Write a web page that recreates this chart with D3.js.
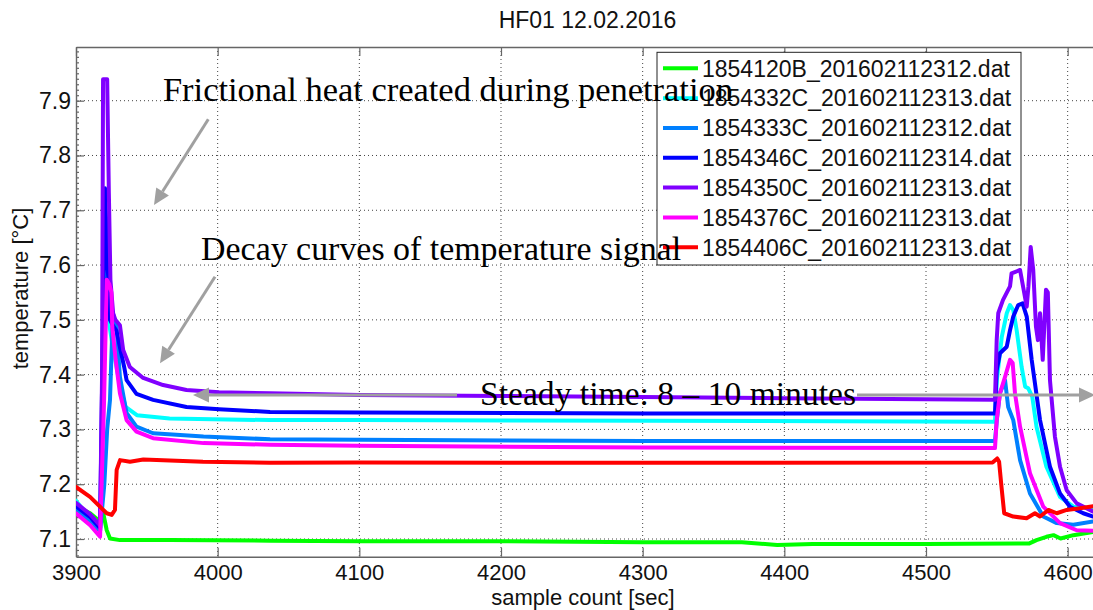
<!DOCTYPE html>
<html><head><meta charset="utf-8">
<script src="https://cdn.jsdelivr.net/npm/d3@7"></script>
<style>html,body{margin:0;padding:0;background:#fff;overflow:hidden}</style>
</head><body>
<svg id="chart" width="1093" height="610"></svg>
<script>
// ---------- data ----------
const seriesNames = ["1854120B_201602112312.dat","1854332C_201602112313.dat","1854333C_201602112312.dat","1854346C_201602112314.dat","1854350C_201602112313.dat","1854376C_201602112313.dat","1854406C_201602112313.dat"];
const seriesColors = ["#00ff00","#00ffff","#0080ff","#0000ff","#8000ff","#ff00ff","#ff0000"];
const xTicks = [3900,4000,4100,4200,4300,4400,4500,4600];
const yTicks = [7.1,7.2,7.3,7.4,7.5,7.6,7.7,7.8,7.9];
const xDomain = [3900,4620];
const yDomain = [7.0677,7.998];

const s1854120B = [[3900,7.160],[3910,7.147],[3917,7.132],[3919,7.150],[3921.7,7.116],[3924,7.101],[3931,7.098],[3966,7.098],[4037,7.097],[4100,7.096],[4200,7.096],[4300,7.094],[4370,7.094],[4395,7.089],[4420,7.091],[4500,7.091],[4573,7.092],[4578,7.098],[4585,7.104],[4590,7.107],[4595,7.101],[4604,7.107],[4618,7.113],[4620,7.114]];
const s1854332C = [[3900,7.170],[3910,7.137],[3917,7.115],[3919,7.40],[3920.5,7.64],[3921.5,7.60],[3923,7.50],[3926,7.45],[3931,7.38],[3935,7.341],[3943,7.326],[3966,7.320],[4037,7.317],[4100,7.317],[4300,7.316],[4548.7,7.314],[4550,7.390],[4553.5,7.469],[4557,7.512],[4559.3,7.527],[4561.6,7.518],[4564,7.481],[4567.5,7.414],[4570,7.378],[4572.2,7.375],[4575,7.36],[4578,7.305],[4585,7.232],[4594.6,7.177],[4604,7.159],[4618,7.156],[4620,7.156]];
const s1854333C = [[3900,7.155],[3910,7.130],[3917,7.115],[3920,7.20],[3922,7.30],[3924,7.354],[3926,7.512],[3928.6,7.487],[3931,7.396],[3935.7,7.330],[3942.7,7.305],[3954.4,7.293],[3990,7.287],[4037,7.282],[4100,7.281],[4300,7.279],[4548.7,7.279],[4550,7.317],[4552.2,7.366],[4555.8,7.390],[4558,7.341],[4561.6,7.317],[4566.4,7.244],[4573.4,7.183],[4582.8,7.141],[4592.3,7.129],[4604,7.126],[4618,7.132],[4620,7.132]];
const s1854346C = [[3900,7.160],[3910,7.140],[3917,7.120],[3918.8,7.45],[3920.5,7.74],[3922,7.62],[3924,7.50],[3926,7.49],[3928.6,7.48],[3931,7.45],[3934,7.414],[3935.7,7.390],[3942.7,7.365],[3954.4,7.354],[3978,7.341],[4001,7.337],[4037,7.332],[4100,7.331],[4300,7.329],[4548.7,7.329],[4549.9,7.408],[4552.2,7.439],[4557,7.451],[4559.3,7.481],[4561.6,7.506],[4565.1,7.527],[4568.2,7.530],[4571.1,7.506],[4574.6,7.427],[4580.5,7.317],[4587.5,7.232],[4594.6,7.183],[4601.6,7.159],[4611,7.147],[4618,7.141],[4620,7.140]];
const s1854350C = [[3900,7.166],[3910,7.145],[3917,7.125],[3918.4,7.40],[3919.1,7.939],[3922,7.939],[3923.2,7.731],[3924.3,7.573],[3926.2,7.512],[3927.8,7.500],[3931,7.49],[3933.3,7.445],[3938,7.414],[3947.4,7.394],[3961.5,7.381],[3978,7.372],[4001,7.368],[4037,7.366],[4100,7.363],[4200,7.361],[4300,7.359],[4400,7.357],[4548.7,7.354],[4549.9,7.463],[4551,7.512],[4554.3,7.536],[4559.3,7.561],[4560.4,7.585],[4566.4,7.591],[4568.5,7.561],[4571.1,7.524],[4572.3,7.561],[4573.9,7.633],[4575.7,7.591],[4577.6,7.488],[4579,7.463],[4580.5,7.512],[4582.4,7.427],[4584.7,7.555],[4586,7.550],[4587.5,7.390],[4591,7.287],[4594.6,7.232],[4599.3,7.189],[4606.4,7.165],[4618,7.150],[4620,7.149]];
const s1854376C = [[3900,7.147],[3910,7.125],[3917,7.104],[3919.8,7.35],[3921.7,7.573],[3923.5,7.565],[3925,7.55],[3925.6,7.487],[3928,7.427],[3931,7.366],[3935.7,7.317],[3942.7,7.296],[3954.4,7.284],[3990,7.275],[4037,7.272],[4100,7.270],[4300,7.267],[4548.7,7.266],[4549.9,7.317],[4552.2,7.366],[4555.8,7.396],[4559.3,7.427],[4561.2,7.421],[4562.8,7.366],[4566.4,7.305],[4573.4,7.220],[4582.8,7.159],[4594.6,7.129],[4606.4,7.116],[4618,7.115],[4620,7.115]];
const s1854406C = [[3900,7.195],[3909.9,7.177],[3916.9,7.159],[3921.7,7.147],[3925.2,7.144],[3927.5,7.153],[3928.7,7.226],[3931.1,7.244],[3938.1,7.241],[3947.5,7.245],[3989.6,7.241],[4037,7.2393],[4100,7.2395],[4300,7.239],[4547,7.2395],[4550.3,7.247],[4551.6,7.241],[4553.3,7.195],[4555.2,7.147],[4561.6,7.141],[4571,7.138],[4576.9,7.147],[4580.5,7.141],[4586.4,7.153],[4592.3,7.147],[4599.3,7.153],[4608.7,7.156],[4618,7.160],[4620,7.160]];
const seriesData = [s1854120B,s1854332C,s1854333C,s1854346C,s1854350C,s1854376C,s1854406C];

const annotations = [
  {text:"Frictional heat created during penetration", x:3961.4, y:7.900, len:570},
  {text:"Decay curves of temperature signal", x:3988.3, y:7.609, len:480},
  {text:"Steady time: 8 \u2013 10 minutes", x:4185.2, y:7.3446, len:376}
];

// ---------- layout ----------
const svg = d3.select("#chart");
const L = 76, R = 1096, T = 47, B = 556.7;
const x = d3.scaleLinear().domain(xDomain).range([L,R]);
const y = d3.scaleLinear().domain(yDomain).range([B,T]);
const sans = "'Liberation Sans', Arial, Helvetica, sans-serif";

svg.append("defs").append("clipPath").attr("id","clip")
  .append("rect").attr("x",L).attr("y",T).attr("width",R-L).attr("height",B-T);

// grid
const grid = svg.append("g").attr("stroke","#444").attr("stroke-width",1).attr("stroke-dasharray","1,3");
xTicks.forEach(t=>{ if(t>xDomain[0]) grid.append("line").attr("x1",x(t)).attr("x2",x(t)).attr("y1",T).attr("y2",B); });
yTicks.forEach(t=>{ grid.append("line").attr("x1",L).attr("x2",R).attr("y1",y(t)).attr("y2",y(t)); });

// axes (MATLAB style, inward ticks)
const axB = d3.axisBottom(x).tickValues(xTicks).tickSizeInner(-9).tickSizeOuter(0).tickPadding(8).tickFormat(d3.format("d"));
const axT = d3.axisTop(x).tickValues(xTicks).tickSizeInner(-9).tickSizeOuter(0).tickFormat("");
const axL = d3.axisLeft(y).tickValues(yTicks).tickSizeInner(-8).tickSizeOuter(0).tickPadding(5).tickFormat(d3.format(".1f"));
const minorY = d3.range(7.07,7.995,0.01);
const axLm = d3.axisLeft(y).tickValues(minorY).tickSizeInner(-3).tickSizeOuter(0).tickFormat("");

function styleAxis(g, fs){
  g.select(".domain").attr("stroke","#666").attr("stroke-width",1.4);
  g.selectAll(".tick line").attr("stroke","#666").attr("stroke-width",1.2);
  g.selectAll(".tick text").attr("font-family",sans).attr("font-size",fs||23).attr("fill","#111");
}
svg.append("g").attr("transform",`translate(0,${B})`).call(axB).call(g=>styleAxis(g,22));
svg.append("g").attr("transform",`translate(0,${T})`).call(axT).call(styleAxis);
svg.append("g").attr("transform",`translate(${L},0)`).call(axLm).call(styleAxis).select(".domain").remove();
svg.append("g").attr("transform",`translate(${L},0)`).call(axL).call(styleAxis);

// lines
const line = d3.line().x(d=>x(d[0])).y(d=>y(d[1]));
const lg = svg.append("g").attr("clip-path","url(#clip)");
seriesData.forEach((s,i)=>{
  lg.append("path").datum(s).attr("d",line).attr("fill","none")
    .attr("stroke",seriesColors[i]).attr("stroke-width",4)
    .attr("stroke-linejoin","round").attr("stroke-linecap","round");
});

// title and axis labels
svg.append("text").attr("x",587.5).attr("y",28.3).attr("text-anchor","middle")
  .attr("font-family",sans).attr("font-size",23).attr("fill","#111").text("HF01 12.02.2016");
svg.append("text").attr("x",583).attr("y",605).attr("text-anchor","middle")
  .attr("font-family",sans).attr("font-size",22).attr("fill","#111").text("sample count [sec]");
svg.append("text").attr("transform","translate(28,288.5) rotate(-90)").attr("text-anchor","middle")
  .attr("font-family",sans).attr("font-size",22).attr("fill","#111").text("temperature [\u00b0C]");

// legend
const leg = svg.append("g");
leg.append("rect").attr("x",657).attr("y",52.3).attr("width",364).attr("height",212.7)
  .attr("fill","#fff").attr("stroke","#222").attr("stroke-width",1);
seriesNames.forEach((n,i)=>{
  const cy = 68.3 + i*29.83;
  leg.append("line").attr("x1",663).attr("x2",698).attr("y1",cy).attr("y2",cy)
    .attr("stroke",seriesColors[i]).attr("stroke-width",4);
  leg.append("text").attr("x",702).attr("y",cy).attr("dy","0.36em")
    .attr("font-family",sans).attr("font-size",23).attr("fill","#111").text(n);
});

// arrows
const gray = "#a0a0a0";
const ag = svg.append("g");
function arrow(x1,y1,x2,y2){
  const a = Math.atan2(y2-y1,x2-x1), hl = 16, hw = 7.5;
  const bx = x2 - hl*Math.cos(a), by = y2 - hl*Math.sin(a);
  ag.append("line").attr("x1",x1).attr("y1",y1).attr("x2",bx).attr("y2",by)
    .attr("stroke",gray).attr("stroke-width",3);
  ag.append("path").attr("fill",gray)
    .attr("d",`M${x2},${y2}L${bx+hw*Math.sin(a)},${by-hw*Math.cos(a)}L${bx-hw*Math.sin(a)},${by+hw*Math.cos(a)}Z`);
}
arrow(208.3,119.3,154,205);
arrow(215,276.7,160,363.3);
arrow(457,395,193,395);
arrow(857,395,1095,395);

// annotation texts
annotations.forEach(a=>{
  svg.append("text").attr("x",x(a.x)).attr("y",y(a.y))
    .attr("font-family","'Liberation Serif','Times New Roman',serif").attr("font-size",33)
    .attr("fill","#000").attr("textLength",a.len).attr("lengthAdjust","spacingAndGlyphs").text(a.text);
});
</script>
</body></html>
